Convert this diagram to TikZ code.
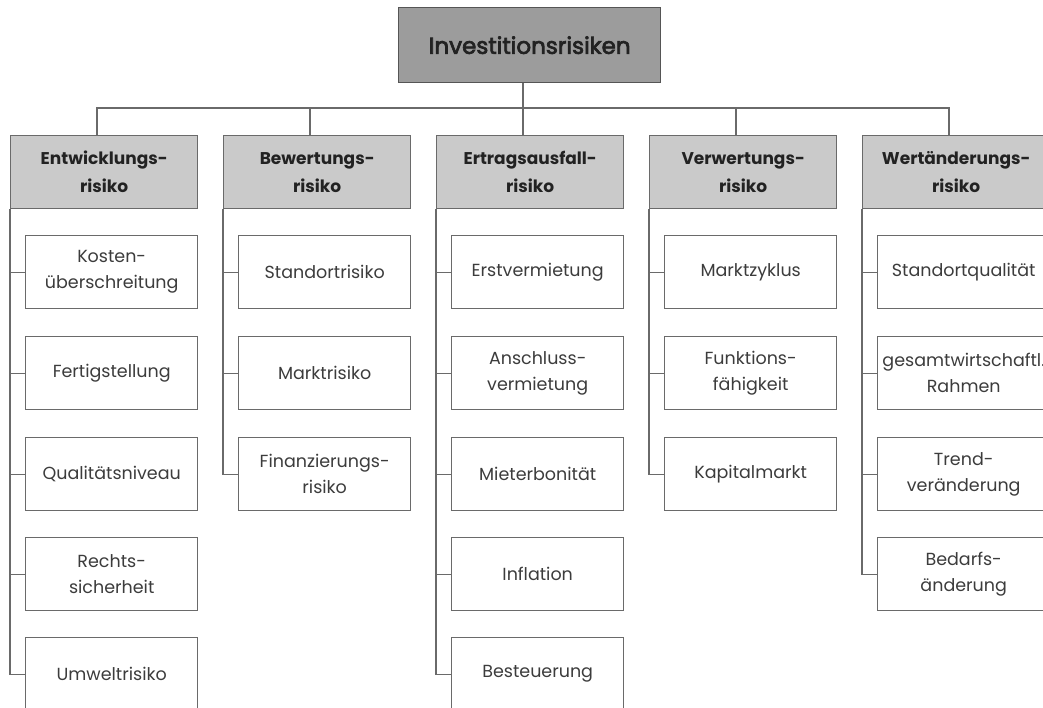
\documentclass[tikz,border=0pt]{standalone}
\usepackage{fontspec}
\setmainfont{Poppins}
\newfontfamily\topfont[FakeBold=3]{Poppins}
\definecolor{lin}{HTML}{6A6A6A}
\definecolor{topfill}{HTML}{9C9C9C}
\definecolor{catfill}{HTML}{CACACA}
\definecolor{txt}{HTML}{3C3C3C}
\definecolor{dtxt}{HTML}{222222}
\begin{document}
\begin{tikzpicture}[x=1pt,y=-1pt,
  base/.style={draw=lin,line width=1.4pt,inner sep=0pt,anchor=north west,align=center},
  topbox/.style={base,fill=topfill,draw=lin!80!black,minimum width=262pt,minimum height=75pt,
     font=\topfont\fontsize{23}{28}\selectfont,text=dtxt},
  catbox/.style={base,fill=catfill,minimum width=187pt,minimum height=73pt,
     font=\fontsize{17}{28}\selectfont\bfseries,text=dtxt},
  leaf/.style={base,fill=white,minimum width=172pt,minimum height=73pt,
     font=\fontsize{17.5}{26}\selectfont,text=txt},
  con/.style={draw=lin,line width=1.3pt}]
\useasboundingbox (0,0) rectangle (1043,708);
\clip (0,0) rectangle (1043,708);

\node[topbox] (T) at (398,7) {Investitionsrisiken};

\node[catbox] (C1) at (10,135) {Entwicklungs-\\risiko};
\node[catbox] (C2) at (223,135) {Bewertungs-\\risiko};
\node[catbox] (C3) at (436,135) {Ertragsausfall-\\risiko};
\node[catbox] (C4) at (649,135) {Verwertungs-\\risiko};
\node[catbox] (C5) at (862,135) {Wertänderungs-\\risiko};

% column 1
\node[leaf] (A1) at (25,235) {Kosten-\\überschreitung};
\node[leaf] (A2) at (25,336) {Fertigstellung};
\node[leaf] (A3) at (25,437) {Qualitätsniveau};
\node[leaf] (A4) at (25,537) {Rechts-\\sicherheit};
\node[leaf] (A5) at (25,637) {Umweltrisiko};
% column 2
\node[leaf] (B1) at (238,235) {Standortrisiko};
\node[leaf] (B2) at (238,336) {Marktrisiko};
\node[leaf] (B3) at (238,437) {Finanzierungs-\\risiko};
% column 3
\node[leaf] (D1) at (451,235) {Erstvermietung};
\node[leaf] (D2) at (451,336) {Anschluss-\\vermietung};
\node[leaf] (D3) at (451,437) {Mieterbonität};
\node[leaf] (D4) at (451,537) {Inflation};
\node[leaf] (D5) at (451,637) {Besteuerung};
% column 4
\node[leaf] (E1) at (664,235) {Marktzyklus};
\node[leaf] (E2) at (664,336) {Funktions-\\fähigkeit};
\node[leaf] (E3) at (664,437) {Kapitalmarkt};
% column 5
\node[leaf] (F1) at (877,235) {Standortqualität};
\node[leaf] (F2) at (877,336) {gesamtwirtschaftl.\\Rahmen};
\node[leaf] (F3) at (877,437) {Trend-\\veränderung};
\node[leaf] (F4) at (877,537) {Bedarfs-\\änderung};

% bus
\draw[con] ([xshift=87pt]C1.north west) -- ++(0,-27) -| ([xshift=87pt]C5.north west);
\foreach \c in {C2,C3,C4} \draw[con] ([xshift=87pt]\c.north west) -- ++(0,-27);
\draw[con] ([xshift=87pt]C3.north west) -- ([xshift=87pt]C3.north west |- T.south);

% spines
\draw[con] (C1.south west) |- (A5.west);
\foreach \n in {A1,A2,A3,A4} \draw[con] (\n.west) -- (\n.west -| C1.south west);
\draw[con] (C2.south west) |- (B3.west);
\foreach \n in {B1,B2} \draw[con] (\n.west) -- (\n.west -| C2.south west);
\draw[con] (C3.south west) |- (D5.west);
\foreach \n in {D1,D2,D3,D4} \draw[con] (\n.west) -- (\n.west -| C3.south west);
\draw[con] (C4.south west) |- (E3.west);
\foreach \n in {E1,E2} \draw[con] (\n.west) -- (\n.west -| C4.south west);
\draw[con] (C5.south west) |- (F4.west);
\foreach \n in {F1,F2,F3} \draw[con] (\n.west) -- (\n.west -| C5.south west);
\end{tikzpicture}
\end{document}
